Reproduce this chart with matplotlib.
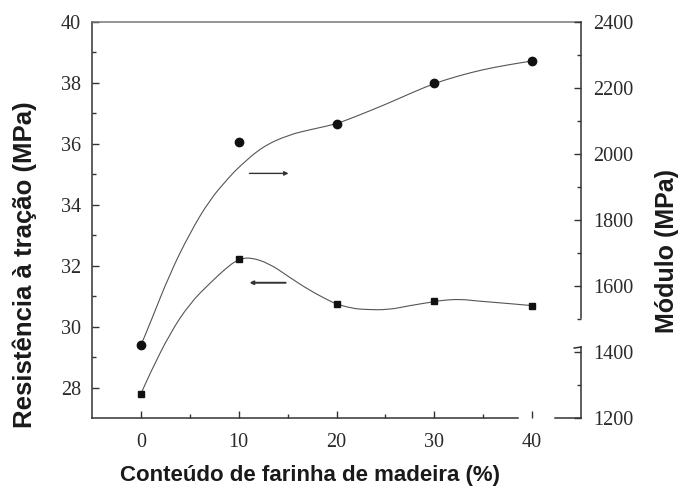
import numpy as np
import matplotlib.pyplot as plt
from matplotlib.path import Path
from matplotlib.patches import PathPatch

# wood flour content (%)
wood = [0, 10, 20, 30, 40]
tensile = [27.79, 32.21, 30.74, 30.84, 30.68]     # MPa, left axis
modulus = [1420, 2036, 2091, 2215, 2282]          # MPa, right axis

# fitted trend lines
ten_fit_x = [0, 0.94, 2.97, 5.0, 7.03, 9.06, 10, 11.1, 13.1, 15.1, 17.2, 19.2,
             20, 21.6, 22.9, 25.3, 27.3, 30, 31.0, 32.7, 34.4, 36.4, 40]
ten_fit_y = [27.79, 28.47, 29.78, 30.76, 31.42, 32.02, 32.2, 32.28, 32.08, 31.64,
             31.2, 30.86, 30.74, 30.6, 30.56, 30.55, 30.68, 30.82, 30.87, 30.9,
             30.84, 30.79, 30.69]
mod_fit_x = [0, 0.94, 2.97, 5.0, 7.03, 9.06, 10.07, 12.4, 15.1, 17.5, 20,
             22.5, 25, 27.5, 30, 32.5, 35, 37.5, 40]
mod_fit_y = [1420, 1487, 1638, 1760, 1861, 1931, 1962, 2022, 2058, 2075, 2091,
             2120, 2150, 2183, 2214, 2237, 2256, 2270, 2282]

ink = '#2b2b2b'
serif = 'Liberation Serif'
sans = 'Liberation Sans'


def smooth_line(a, xs, ys):
    # quadratic bezier through the midpoints, so the trend line has no corners
    p = np.column_stack([xs, ys]).astype(float)
    verts = [p[0], (p[0] + p[1]) / 2]
    codes = [Path.MOVETO, Path.LINETO]
    for i in range(1, len(p) - 1):
        verts += [p[i], (p[i] + p[i + 1]) / 2]
        codes += [Path.CURVE3, Path.CURVE3]
    verts.append(p[-1])
    codes.append(Path.LINETO)
    a.add_patch(PathPatch(Path(verts, codes), fill=False, ec='#555555', lw=0.8))


fig = plt.figure(figsize=(6.82, 4.86), dpi=100)
ax = fig.add_axes([92/682, 1-418/486, (581-92)/682, (418-22)/486])
ax2 = ax.twinx()

smooth_line(ax, ten_fit_x, ten_fit_y)
ax.plot(wood, tensile, 's', color='#111111', ms=5, ls='none')
smooth_line(ax2, mod_fit_x, mod_fit_y)
ax2.plot(wood, modulus, 'o', color='#111111', ms=6, ls='none')

ax.set_xlim(-5, 45)
ax.set_ylim(27, 40)
ax2.set_ylim(1200, 2400)

ax.set_xticks([0, 10, 20, 30, 40])
ax.set_xticks([5, 15, 25, 35], minor=True)
ax.set_yticks(np.arange(28, 41, 2))
ax.set_yticks(np.arange(29, 40, 2), minor=True)
ax2.set_yticks(np.arange(1200, 2401, 200))
ax2.set_yticks(np.arange(1300, 2400, 200), minor=True)

for a in (ax, ax2):
    a.tick_params(which='both', direction='in', color='#333333', width=1)
    a.tick_params(which='major', length=5)
    a.tick_params(which='minor', length=3)
    for lab in a.get_xticklabels() + a.get_yticklabels():
        lab.set_fontfamily(serif)
        lab.set_fontsize(14.5)
        lab.set_color(ink)
ax.tick_params(axis='x', pad=11, top=False)
ax.tick_params(axis='y', pad=8, right=False)
ax2.tick_params(axis='y', pad=9)

# spines: the frame has a couple of breaks
for a in (ax, ax2):
    for s in a.spines.values():
        s.set_color('#333333')
        s.set_linewidth(1.1)
    a.spines['top'].set_color('#777777')
ax.spines['right'].set_visible(False)
ax2.spines['left'].set_visible(False)
ax2.spines['bottom'].set_visible(False)
ax2.spines['top'].set_visible(False)
ax2.spines['right'].set_bounds(1503, 2400)
ax2.plot([45, 45], [1200, 1415], color='#333333', lw=1.1, clip_on=False)
ax2.plot([44.3, 45], [1412, 1415], color='#333333', lw=1.1, clip_on=False)
ax.spines['bottom'].set_bounds(-5, 38.6)
ax.plot([42.3, 45], [27, 27], color='#333333', lw=1.1, clip_on=False)

# arrows pointing to each series' axis
ax.annotate('', xy=(15.1, 35.03), xytext=(11.1, 35.03),
            arrowprops=dict(arrowstyle='-|>', lw=1, color='#333333',
                            mutation_scale=6, shrinkA=0, shrinkB=0))
ax.annotate('', xy=(11.1, 31.44), xytext=(14.8, 31.44),
            arrowprops=dict(arrowstyle='-|>', lw=1.4, color='#333333',
                            mutation_scale=5, shrinkA=0, shrinkB=0))

lab = '#1a1a1a'
fig.text(310/682, 1-475/486, 'Conteúdo de farinha de madeira (%)',
         ha='center', va='center', fontsize=16, fontweight='bold',
         family=sans, color=lab)
fig.text(25/682, 1-265/486, 'Resistência à tração (MPa)', rotation=90,
         ha='center', va='center', fontsize=18.5, fontweight='bold',
         family=sans, color=lab)
fig.text(667/682, 1-251/486, 'Módulo (MPa)', rotation=90,
         ha='center', va='center', fontsize=18, fontweight='bold',
         family=sans, color=lab)

fig.savefig('out.png', dpi=100)
